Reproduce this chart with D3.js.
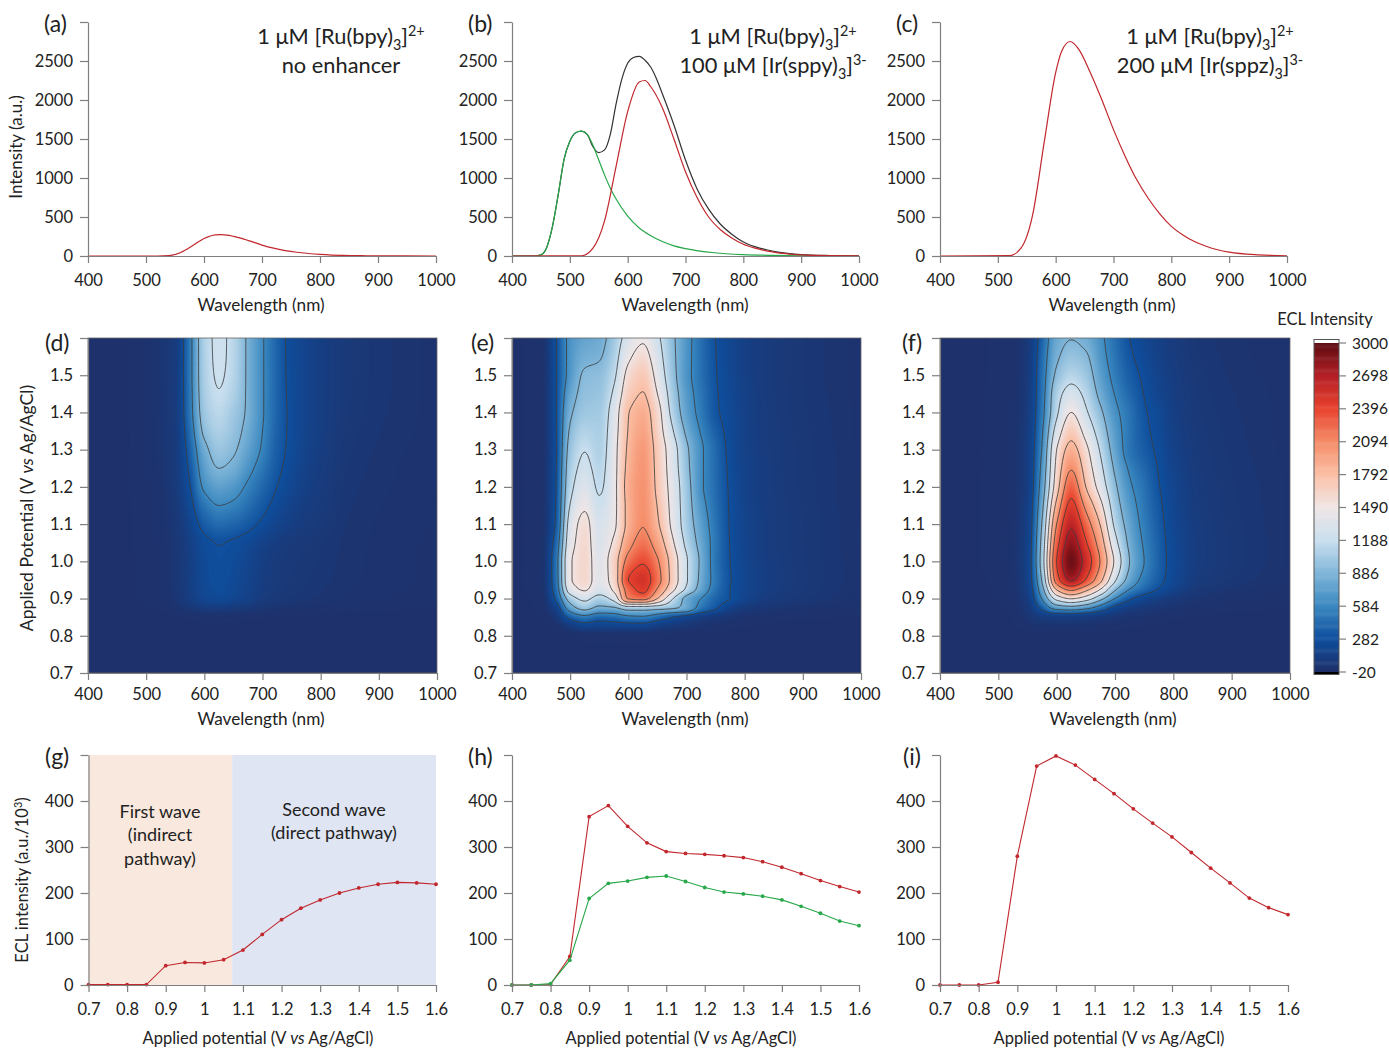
<!DOCTYPE html>
<html>
<head>
<meta charset="utf-8">
<script src="https://cdn.jsdelivr.net/npm/d3@7"></script>
<style>
  body { margin: 0; background: #fff; }
  text { font-family: Lato, "Open Sans", sans-serif; fill: #222; }
</style>
</head>
<body>
<svg id="fig" width="1389" height="1048"></svg>
<script>
const wlA = [400,520,540,560,580,600,620,630,640,660,680,700,720,740,760,780,800,820,840,860,880,900,1000]
const redA = [0,0,5,45,130,225,272,275,268,235,190,140,100,70,48,32,20,12,8,5,3,2,0]

const wlBred = [400,520,540,560,580,600,620,630,640,660,680,700,720,740,760,780,800,820,840,860,880,900,950,1000]
const redB = [0,2,100,450,1150,1850,2230,2250,2170,1900,1500,1080,750,500,340,230,150,100,65,40,25,15,5,2]
const wlBgreen = [400,440,450,460,470,480,490,500,510,520,530,540,550,560,570,580,600,620,640,660,680,700,750,800,850,900,1000]
const greenB = [0,0,15,110,380,790,1240,1470,1580,1600,1560,1420,1230,1040,870,730,510,360,260,185,130,95,42,18,8,3,0]
const wlBblack = [400,440,450,460,470,480,490,500,510,520,530,540,550,560,570,580,590,600,610,620,630,640,650,660,680,700,720,740,760,780,800,820,840,860,880,900,950,1000]
const blackB = [0,0,15,110,380,790,1240,1470,1580,1600,1560,1400,1325,1360,1560,1950,2270,2470,2545,2560,2510,2420,2270,2080,1680,1230,860,600,410,280,180,120,80,50,30,18,6,2]

const wlC = [400,520,540,560,580,600,610,625,640,660,680,700,720,740,760,780,800,820,840,860,880,900,950,1000]
const redC = [0,5,100,520,1450,2350,2620,2750,2650,2350,2000,1620,1280,980,740,540,380,270,185,125,80,50,15,3]

// potential sweeps, panels g-i
const potentials = [0.7,0.75,0.8,0.85,0.9,0.95,1,1.05,1.1,1.15,1.2,1.25,1.3,1.35,1.4,1.45,1.5,1.55,1.6]
const redG = [1,1,1,1,42,49,48,55,76,110,142,167,185,200,211,219,223,222,219]
const redH = [0,0,1,62,366,390,345,309,290,286,284,281,277,268,256,242,227,214,202]
const greenH = [0,0,3,54,188,221,226,234,237,225,212,202,198,193,185,171,156,139,129]
const redI = [0,0,0,6,280,476,498,478,447,416,383,352,322,288,254,222,189,168,153]

// ECL maps, rows = gridPot, columns = gridWl
const gridWl = [400,450,475,500,525,550,575,600,625,650,675,700,725,750,775,800,850,1000]
const gridPot = [0.7,0.8,0.825,0.85,0.875,0.9,0.925,0.95,1,1.05,1.1,1.15,1.2,1.25,1.3,1.35,1.4,1.45,1.5,1.55,1.6]

const mapD = [
  [0,0,0,0,0,0,0,0,0,0,0,0,0,0,0,0,0,0],
  [0,0,0,0,0,0,0,0,0,0,0,0,0,0,0,0,0,0],
  [0,0,0,0,0,0,2,3,3,3,2,2,1,1,1,1,0,0],
  [0,0,0,0,0,2,10,15,20,15,10,8,5,4,3,3,2,0],
  [0,0,0,5,10,30,70,110,120,100,80,55,40,30,25,20,15,5],
  [0,0,5,10,20,50,130,210,240,210,160,110,75,60,50,45,30,10],
  [0,0,5,10,20,55,140,230,265,235,175,125,90,70,60,50,35,12],
  [0,0,5,10,22,55,140,240,275,245,185,130,95,75,65,55,38,15],
  [0,0,5,12,22,55,140,245,285,260,200,140,100,80,70,60,40,15],
  [0,0,6,12,25,60,150,265,305,285,240,175,125,95,80,65,42,15],
  [0,0,6,14,28,70,190,360,440,410,350,270,190,140,105,85,45,18],
  [0,0,7,15,30,80,240,490,600,560,460,350,250,175,125,100,50,18],
  [0,0,8,18,35,95,290,640,750,700,560,420,300,210,150,110,55,20],
  [0,0,8,20,40,100,340,740,900,840,670,500,340,240,165,120,60,20],
  [0,0,8,22,45,105,390,830,1000,930,760,570,370,260,180,130,65,22],
  [0,0,8,22,45,105,450,950,1080,990,820,600,390,265,185,135,70,24],
  [0,0,8,24,48,105,500,1020,1140,1030,860,620,400,265,190,140,75,25],
  [0,0,9,24,48,110,510,1060,1190,1090,860,620,400,260,190,140,78,25],
  [0,0,9,25,50,110,520,1080,1220,1120,860,620,400,255,190,140,80,25],
  [0,0,9,25,50,110,520,1085,1235,1130,860,620,400,252,190,140,80,25],
  [0,0,9,25,50,110,520,1090,1240,1130,860,620,400,250,190,140,80,25]
]

const mapE = [
  [0,0,0,0,0,0,0,0,0,0,0,0,0,0,0,0,0,0],
  [0,0,0,5,10,10,10,10,10,8,6,4,3,2,1,1,0,0],
  [0,0,15,100,190,170,180,190,190,130,90,60,35,20,12,8,3,0],
  [0,5,70,380,520,420,450,540,560,450,310,210,130,80,50,30,15,5],
  [0,10,170,760,1000,840,870,1060,1060,1020,950,800,500,330,170,100,50,15],
  [0,15,330,1050,1270,1090,1300,2120,2200,1800,1240,820,600,400,300,190,100,25],
  [0,20,420,1360,1530,1330,1550,2250,2470,2080,1600,1150,780,480,300,205,115,30],
  [0,25,460,1470,1610,1390,1620,2400,2530,2210,1710,1230,830,510,310,210,120,32],
  [0,20,470,1470,1610,1380,1650,2200,2370,2130,1690,1230,850,490,300,200,115,32],
  [0,20,400,1390,1600,1340,1540,2000,2200,1970,1560,1130,800,500,295,195,110,32],
  [0,20,320,1320,1570,1310,1450,1880,2090,1840,1450,1060,750,480,290,190,110,32],
  [0,20,300,1210,1460,1240,1430,1880,2070,1790,1420,1040,690,460,285,185,108,30],
  [0,20,290,1120,1350,1170,1420,1900,2060,1740,1400,1020,640,440,280,180,105,30],
  [0,20,280,1060,1260,1130,1410,1870,2040,1720,1370,980,640,435,270,175,102,30],
  [0,20,270,1000,1190,1090,1400,1840,2020,1700,1350,950,640,430,260,170,100,30],
  [0,20,275,930,1100,1070,1370,1810,1960,1650,1240,850,580,380,250,167,98,28],
  [0,20,280,860,1020,1040,1330,1790,1900,1610,1130,760,520,330,240,165,95,28],
  [0,20,280,780,970,1000,1240,1680,1810,1500,1070,720,495,320,230,160,92,26],
  [0,20,280,700,930,960,1150,1580,1720,1400,1010,680,470,310,220,155,90,25],
  [0,20,280,680,840,880,1080,1450,1590,1320,980,685,465,305,215,152,90,25],
  [0,20,280,670,770,820,1020,1320,1460,1250,960,690,460,300,210,150,90,25]
]

const mapF = [
  [0,0,0,0,0,0,0,0,0,0,0,0,0,0,0,0,0,0],
  [0,0,0,0,0,0,2,3,3,3,2,1,1,0,0,0,0,0],
  [0,0,0,2,5,20,30,35,35,30,22,15,10,6,4,2,1,0],
  [0,0,0,2,8,50,110,130,130,110,85,60,40,28,18,10,5,0],
  [0,0,2,5,15,75,370,720,780,680,470,235,130,90,60,40,20,5],
  [0,0,3,8,20,120,620,1300,1520,1350,1000,600,340,210,140,90,40,10],
  [0,1,4,10,25,150,800,1830,2180,1900,1500,950,600,420,290,185,70,15],
  [0,1,5,12,30,170,930,2250,2730,2380,1880,1240,790,520,360,230,95,25],
  [0,2,8,15,35,180,1050,2400,2950,2580,2080,1450,900,600,390,240,110,30],
  [0,2,8,15,35,170,1000,2270,2820,2430,1950,1300,840,570,380,235,110,30],
  [0,2,8,15,33,160,920,2100,2650,2250,1780,1140,780,530,360,220,105,30],
  [0,2,8,15,30,150,830,1880,2470,2030,1580,1040,710,500,335,210,100,30],
  [0,2,8,15,30,130,740,1670,2280,1800,1380,950,640,470,310,200,95,30],
  [0,2,7,14,28,130,680,1580,2080,1680,1270,860,570,420,290,185,90,28],
  [0,2,7,13,26,130,620,1500,1890,1570,1170,780,490,360,270,170,85,26],
  [0,2,6,12,24,120,570,1320,1700,1400,1060,720,490,340,250,155,80,25],
  [0,2,6,12,22,110,520,1150,1500,1240,950,660,480,320,240,145,75,25],
  [0,2,6,11,20,100,490,1080,1300,1130,830,590,420,295,200,135,70,25],
  [0,1,5,10,18,95,470,950,1120,1020,750,530,370,270,180,125,65,22],
  [0,1,5,10,16,90,440,860,990,930,690,490,330,240,165,115,60,20],
  [0,1,5,10,15,85,400,800,890,830,650,460,300,215,155,110,55,20]
]

const wlTicks = [400,500,600,700,800,900,1000]
const intensityTicks = [0,500,1000,1500,2000,2500,3000]
const potMapTicks = [0.7,0.8,0.9,1.0,1.1,1.2,1.3,1.4,1.5,1.6]
const potTicks = [0.7,0.8,0.9,1,1.1,1.2,1.3,1.4,1.5,1.6]
const eclTicks = [0,100,200,300,400,500]

const colorStops = [-20,282,584,886,1188,1490,1792,2094,2396,2698,3000]
const colorValues = ["#1f2f68","#0e4e9d","#3a88c0","#7fb5d8","#c9dfee","#f0e6e6","#fbbfa5","#f58c68","#e8432e","#b41f26","#5c0c12"]
const contourLevels = [300,600,900,1200,1500,1800,2100,2400,2700]
const barTicks = [3000,2698,2396,2094,1792,1490,1188,886,584,282,-20]

const RED = "#c1272d", GREEN = "#27a84a", BLACK = "#333", AXIS = "#7f7f7f"

const svg = d3.select("#fig")
const color = d3.scaleLinear().domain(colorStops).range(colorValues).clamp(true)

function drawAxes(g, x, y, xTicks, yTicks, xFmt, yFmt, pad)
{
  const xAxis = g.append("g")
                 .attr("transform", "translate(0," + y.range()[0] + ")")
                 .call(d3.axisBottom(x).tickValues(xTicks).tickFormat(xFmt).tickSize(7).tickSizeOuter(0).tickPadding(pad))
  const yAxis = g.append("g")
                 .attr("transform", "translate(" + x.range()[0] + ",0)")
                 .call(d3.axisLeft(y).tickValues(yTicks).tickFormat(yFmt).tickSize(8).tickSizeOuter(0).tickPadding(7))
  for (const a of [xAxis, yAxis]) {
    a.selectAll("path,line").attr("stroke", AXIS).attr("stroke-width", 1.2)
    a.selectAll("text").style("font-family", "Lato").style("font-size", "16.5px").attr("fill", "#222")
  }
}

function lineChart(g, x, y, xs, ys, stroke, dots)
{
  const line = d3.line().x((d, i) => x(xs[i])).y(d => y(d))
  if (!dots) line.curve(d3.curveMonotoneX)
  g.append("path").datum(ys)
   .attr("d", line).attr("fill", "none").attr("stroke", stroke).attr("stroke-width", dots ? 1.1 : 1.2)
  if (dots) {
    g.selectAll(null).data(ys).enter().append("circle")
     .attr("cx", (d, i) => x(xs[i])).attr("cy", d => y(d)).attr("r", 1.9).attr("fill", stroke)
  }
}

// monotone cubic through non evenly spaced points, so the maps can be drawn smooth
function smooth(xs, ys)
{
  const n = xs.length, h = [], s = [], m = new Array(n).fill(0)
  for (let i = 0; i < n - 1; i++) { h[i] = xs[i + 1] - xs[i]; s[i] = (ys[i + 1] - ys[i]) / h[i] }
  m[0] = s[0]; m[n - 1] = s[n - 2]
  for (let i = 1; i < n - 1; i++) {
    if (s[i - 1] * s[i] > 0) m[i] = (h[i - 1] + h[i]) * 3 * s[i - 1] * s[i] / ((2 * h[i] + h[i - 1]) * s[i] + (h[i] + 2 * h[i - 1]) * s[i - 1])
  }
  return v => {
    const k = Math.max(0, Math.min(n - 2, d3.bisectRight(xs, v) - 1))
    const t = Math.min(1, (v - xs[k]) / h[k]), t2 = t * t, t3 = t2 * t
    return (2*t3 - 3*t2 + 1) * ys[k] + (t3 - 2*t2 + t) * h[k] * m[k] + (3*t2 - 2*t3) * ys[k + 1] + (t3 - t2) * h[k] * m[k + 1]
  }
}

const fineWl = d3.range(400, 1001, 2)
const finePot = d3.range(0, 186).map(i => 0.7 + i * 0.005)

function drawMap(id, x, y, rows)
{
  const g = svg.append("g")
  svg.append("clipPath").attr("id", "clip" + id).append("rect")
     .attr("x", x.range()[0]).attr("y", y.range()[1])
     .attr("width", x.range()[1] - x.range()[0]).attr("height", y.range()[0] - y.range()[1])
  const plot = g.append("g").attr("clip-path", "url(#clip" + id + ")")

  // rows first, then up each wavelength
  const rowFine = rows.map(r => { const f = smooth(gridWl, r); return fineWl.map(f) })
  const values = new Float64Array(fineWl.length * finePot.length)
  fineWl.forEach((w, i) => {
    const f = smooth(gridPot, rowFine.map(r => r[i]))
    finePot.forEach((p, j) => { values[j * fineWl.length + i] = f(p) })
  })

  const path = d3.geoPath(d3.geoTransform({
    point: function (px, py) {
      this.stream.point(x(400 + (px - 0.5) * 2), y(0.7 + (py - 0.5) * 0.005))
    }
  }))
  const contours = d3.contours().size([fineWl.length, finePot.length])
  const top = d3.max(values)

  plot.append("rect").attr("x", x.range()[0]).attr("y", y.range()[1])
      .attr("width", x.range()[1] - x.range()[0]).attr("height", y.range()[0] - y.range()[1])
      .attr("fill", color(0))
  plot.selectAll(".band").data(contours.thresholds(d3.range(6, top, 14))(values))
      .enter().append("path").attr("class", "band")
      .attr("d", path).attr("fill", d => color(d.value))
  plot.selectAll(".level").data(contours.thresholds(contourLevels.filter(v => v < top))(values))
      .enter().append("path").attr("class", "level")
      .attr("d", path).attr("fill", "none").attr("stroke", "#3c3c3c").attr("stroke-width", 1).attr("stroke-opacity", 0.85)

  g.append("rect").attr("x", x.range()[0]).attr("y", y.range()[1])
   .attr("width", x.range()[1] - x.range()[0]).attr("height", y.range()[0] - y.range()[1])
   .attr("fill", "none").attr("stroke", "#666").attr("stroke-width", 0.8)
  return g
}

// text with sub / superscripts: parts are [string, "sub"|"sup"|"i"|undefined]
function rich(x, y, parts, size, anchor)
{
  const t = svg.append("text").attr("x", x).attr("y", y).attr("text-anchor", anchor || "middle").style("font-size", size + "px")
  let shift = 0
  parts.forEach(p => {
    const span = t.append("tspan").text(p[0])
    let want = 0
    if (p[1] == "sub") { want = size * 0.28; span.style("font-size", (size * 0.66) + "px") }
    if (p[1] == "sup") { want = -size * 0.38; span.style("font-size", (size * 0.66) + "px") }
    if (p[1] == "i") span.style("font-style", "italic")
    span.attr("dy", want - shift)
    shift = want
  })
  return t
}

function letter(s, x, y) { svg.append("text").attr("x", x).attr("y", y).style("font-size", "23px").text(s) }
function xTitle(parts, x, y, size) { rich(x, y, parts, size) }
function yTitle(parts, x, y, size) { rich(0, 0, parts, size).attr("transform", "translate(" + x + "," + y + ") rotate(-90)") }

// ---- top row: spectra
const xSpec = [[88,436],[512,859],[940,1287]].map(r => d3.scaleLinear().domain([400,1000]).range(r))
const ySpec = d3.scaleLinear().domain([0,3000]).range([256,22])
const specFmt = d => d == 3000 ? "" : d

const gA = svg.append("g"), gB = svg.append("g"), gC = svg.append("g")
lineChart(gA, xSpec[0], ySpec, wlA, redA, RED)
lineChart(gB, xSpec[1], ySpec, wlBblack, blackB, BLACK)
lineChart(gB, xSpec[1], ySpec, wlBgreen, greenB, GREEN)
lineChart(gB, xSpec[1], ySpec, wlBred, redB, RED)
lineChart(gC, xSpec[2], ySpec, wlC, redC, RED)
;[gA, gB, gC].forEach((g, i) => drawAxes(g, xSpec[i], ySpec, wlTicks, intensityTicks, d => d, specFmt, 11))

// ---- middle row: maps
const xMap = [[88,437],[512,861],[940,1290]].map(r => d3.scaleLinear().domain([400,1000]).range(r))
const yMap = d3.scaleLinear().domain([0.7,1.6]).range([673,338])
const potFmt = d => d == 1.6 ? "" : d.toFixed(1)
;[mapD, mapE, mapF].forEach((rows, i) => {
  const g = drawMap(i, xMap[i], yMap, rows)
  drawAxes(g, xMap[i], yMap, wlTicks, potMapTicks, d => d, potFmt, 8)
})

// colour bar
const yBar = d3.scaleLinear().domain([-20,3000]).range([672,343])
const gBar = svg.append("g")
gBar.append("rect").attr("x", 1314).attr("y", 339.5).attr("width", 25).attr("height", 4).attr("fill", "#fff")
gBar.selectAll(".cell").data(d3.range(-20, 3000, 10)).enter().append("rect").attr("class", "cell")
    .attr("x", 1314).attr("width", 25).attr("y", d => yBar(d + 10)).attr("height", yBar(0) - yBar(10) + 0.5)
    .attr("fill", d => color(d))
gBar.append("rect").attr("x", 1314).attr("y", 672).attr("width", 25).attr("height", 2.5).attr("fill", "#000")
gBar.append("rect").attr("x", 1314).attr("y", 339.5).attr("width", 25).attr("height", 335)
    .attr("fill", "none").attr("stroke", "#555").attr("stroke-width", 1)
gBar.selectAll(".barTick").data(barTicks).enter().append("line").attr("class", "barTick")
    .attr("x1", 1339).attr("x2", 1346).attr("y1", d => yBar(d)).attr("y2", d => yBar(d))
    .attr("stroke", AXIS).attr("stroke-width", 1.2)
gBar.selectAll(".barLabel").data(barTicks).enter().append("text").attr("class", "barLabel")
    .attr("x", 1352).attr("y", d => yBar(d) + 5.5).style("font-size", "15.5px").text(d => d)
svg.append("text").attr("x", 1325).attr("y", 325).attr("text-anchor", "middle").style("font-size", "16.5px").text("ECL Intensity")

// ---- bottom row: potential sweeps
const xPot = [[88.5,436],[512,859],[940,1288]].map(r => d3.scaleLinear().domain([0.7,1.6]).range(r))
const yEcl = d3.scaleLinear().domain([0,500]).range([985,755])
const sweepFmt = d => +d.toFixed(1)
const eclFmt = d => d == 500 ? "" : d

const gG = svg.append("g"), gH = svg.append("g"), gI = svg.append("g")
gG.append("rect").attr("x", xPot[0](0.7)).attr("y", 755).attr("width", xPot[0](1.072) - xPot[0](0.7)).attr("height", 230).attr("fill", "#f9e8dd")
gG.append("rect").attr("x", xPot[0](1.072)).attr("y", 755).attr("width", xPot[0](1.6) - xPot[0](1.072)).attr("height", 230).attr("fill", "#dfe5f3")
lineChart(gG, xPot[0], yEcl, potentials, redG, RED, true)
lineChart(gH, xPot[1], yEcl, potentials, redH, RED, true)
lineChart(gH, xPot[1], yEcl, potentials, greenH, GREEN, true)
lineChart(gI, xPot[2], yEcl, potentials, redI, RED, true)
;[gG, gH, gI].forEach((g, i) => drawAxes(g, xPot[i], yEcl, potTicks, eclTicks, sweepFmt, eclFmt, 11))

// annotations
const waveText = [["First wave",160,818],["(indirect",160,841],["pathway)",160,865],["Second wave",334,816],["(direct pathway)",334,839]]
svg.selectAll(".wave").data(waveText).enter().append("text").attr("class", "wave")
   .attr("x", d => d[1]).attr("y", d => d[2]).attr("text-anchor", "middle").style("font-size", "18px").text(d => d[0])

const ru = [["1 μM [Ru(bpy)"],["3","sub"],["]"],["2+","sup"]]
rich(341, 44, ru, 21.8)
rich(341, 73, [["no enhancer"]], 21.8)
rich(773, 44, ru, 21.8)
rich(773, 73, [["100 μM [Ir(sppy)"],["3","sub"],["]"],["3-","sup"]], 21.8)
rich(1210, 44, ru, 21.8)
rich(1210, 73, [["200 μM [Ir(sppz)"],["3","sub"],["]"],["3-","sup"]], 21.8)

const lettersData = [["(a)",44,32],["(b)",468,32],["(c)",896,32],["(d)",45,351],["(e)",471,351],["(f)",902,351],["(g)",45,765],["(h)",468,765],["(i)",903,765]]
lettersData.forEach(d => letter(d[0], d[1], d[2]))

;[261,685,1112].forEach(x => xTitle([["Wavelength (nm)"]], x, 311, 17.2))
;[261,685,1113].forEach(x => xTitle([["Wavelength (nm)"]], x, 725, 17.2))
;[258,681,1109].forEach(x => xTitle([["Applied potential (V "],["vs","i"],[" Ag/AgCl)"]], x, 1044, 16.5))

yTitle([["Intensity (a.u.)"]], 22, 147, 17)
yTitle([["Applied Potential (V  "],["vs","i"],[" Ag/AgCl)"]], 33, 508, 17.6)
yTitle([["ECL intensity (a.u./10"],["3","sup"],[")"]], 28, 880, 16.5)
</script>
</body>
</html>
